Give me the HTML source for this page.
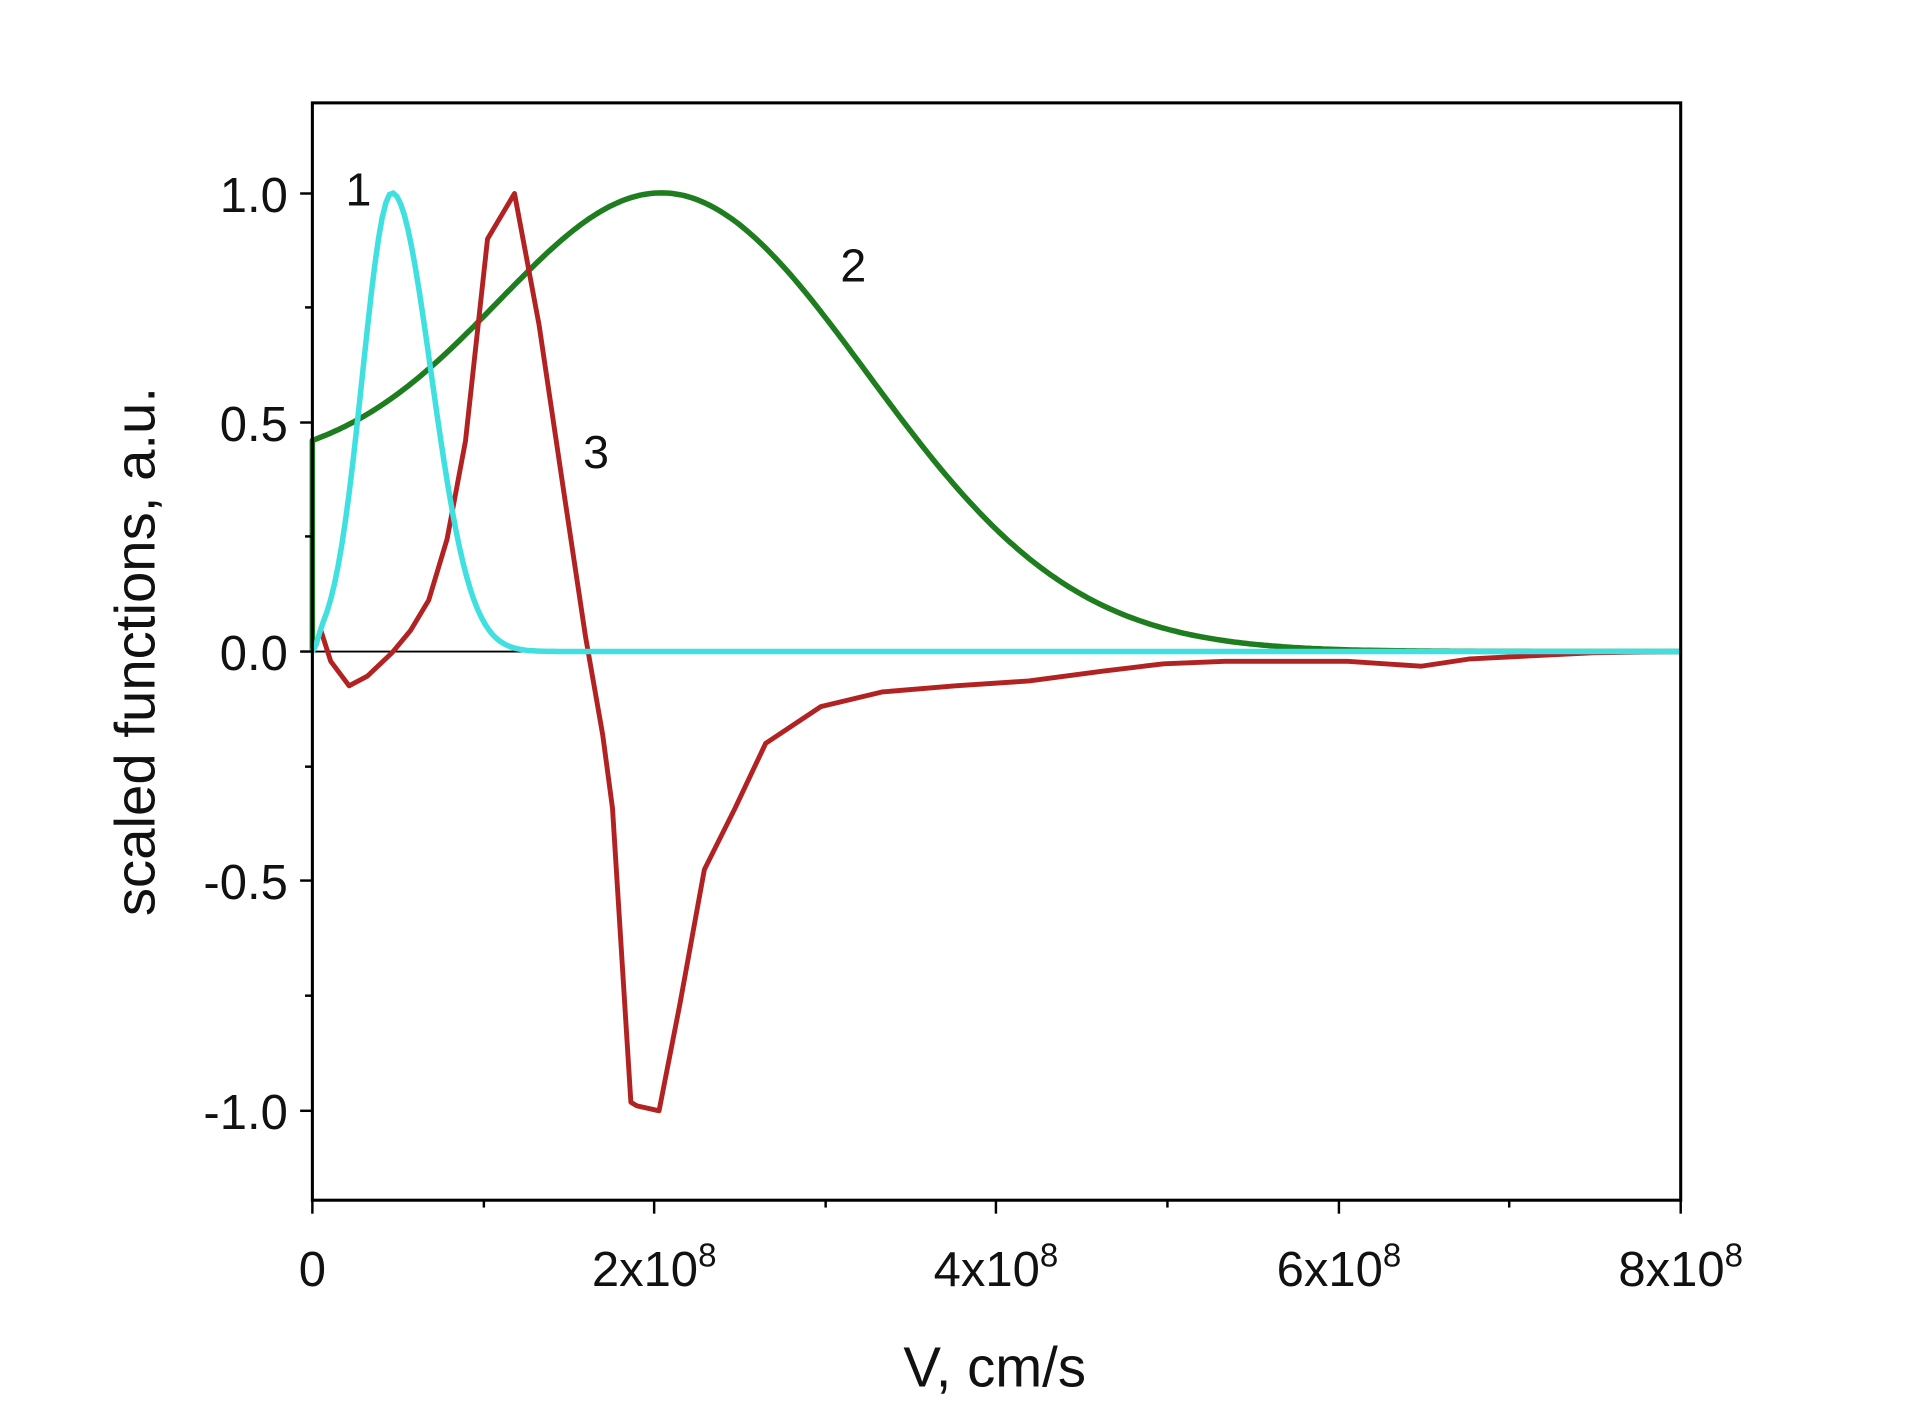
<!DOCTYPE html>
<html><head><style>html,body{margin:0;padding:0;background:#fff}svg{display:block}</style></head>
<body>
<svg width="1911" height="1428" viewBox="0 0 1560 1166" preserveAspectRatio="none" xmlns="http://www.w3.org/2000/svg" font-family="Liberation Sans, Arial, sans-serif">
<rect width="1560" height="1166" fill="#fff"/>
<line x1="255" y1="532" x2="1372" y2="532" stroke="#000" stroke-width="1.5"/>
<polyline id="gr" fill="none" stroke="#1e7d1e" stroke-width="4.5" stroke-linejoin="round" points=""/>
<polyline fill="none" stroke="#b22222" stroke-width="4" stroke-linejoin="round" points="262,515 270,540 285,560 300,552 320,533 335,515 350,490 365,440 380,360 398,195 420,158 440,265 460,400 478,520 492,600 500,660 515,900 520,903 538,907 555,820 575,710 600,660 625,607 670,577 720,565 780,560 840,556 900,548 950,542 1000,540 1100,540 1160,544 1200,538 1300,533 1372,532"/>
<polyline id="cy" fill="none" stroke="#40e0e0" stroke-width="4.5" points=""/>
<script>
(function(){var p=[];for(var x=255;x<=1372;x+=3){var d=x-320,s=d<0?24:32;var f=Math.exp(-d*d/(2*s*s));if(x<262)f=f*(x-255)/7;p.push(x+','+(532-f*374.5).toFixed(1));}
document.getElementById('cy').setAttribute('points',p.join(' '));
var q=['255,532'];for(var x=255;x<=1372;x+=3){var d=x-540,f;if(d<0)f=0.40+0.6*Math.exp(-d*d/(2*133*133));else f=Math.exp(-d*d/(2*168*168));q.push(x+','+(532-f*374.5).toFixed(1));}
document.getElementById('gr').setAttribute('points',q.join(' '));})();
</script>
<rect x="255" y="84" width="1117" height="896" fill="none" stroke="#000" stroke-width="2.5"/>
<g stroke="#000" stroke-width="2">
<line x1="245" y1="158" x2="255" y2="158"/><line x1="245" y1="345" x2="255" y2="345"/><line x1="245" y1="532" x2="255" y2="532"/><line x1="245" y1="719" x2="255" y2="719"/><line x1="245" y1="907" x2="255" y2="907"/>
<line x1="249" y1="251" x2="255" y2="251"/><line x1="249" y1="438" x2="255" y2="438"/><line x1="249" y1="626" x2="255" y2="626"/><line x1="249" y1="813" x2="255" y2="813"/>
<line x1="255" y1="980" x2="255" y2="991"/><line x1="534" y1="980" x2="534" y2="991"/><line x1="813" y1="980" x2="813" y2="991"/><line x1="1093" y1="980" x2="1093" y2="991"/><line x1="1372" y1="980" x2="1372" y2="991"/>
<line x1="395" y1="980" x2="395" y2="986"/><line x1="674" y1="980" x2="674" y2="986"/><line x1="953" y1="980" x2="953" y2="986"/><line x1="1232" y1="980" x2="1232" y2="986"/>
</g>
<g font-size="40" text-anchor="end" fill="#111">
<text x="235" y="173">1.0</text><text x="235" y="360">0.5</text><text x="235" y="547">0.0</text><text x="235" y="734">-0.5</text><text x="235" y="922">-1.0</text>
</g>
<g font-size="40" text-anchor="middle" fill="#111">
<text x="255" y="1050">0</text>
<text x="534" y="1050">2x10<tspan font-size="27" dy="-16">8</tspan></text>
<text x="813" y="1050">4x10<tspan font-size="27" dy="-16">8</tspan></text>
<text x="1093" y="1050">6x10<tspan font-size="27" dy="-16">8</tspan></text>
<text x="1372" y="1050">8x10<tspan font-size="27" dy="-16">8</tspan></text>
</g>
<text x="812" y="1132" font-size="46" text-anchor="middle" fill="#111">V, cm/s</text>
<text transform="translate(126,532) rotate(-90)" font-size="46" text-anchor="middle" fill="#111">scaled functions, a.u.</text>
<g font-size="38" fill="#111">
<text x="282" y="168">1</text><text x="686" y="230">2</text><text x="476" y="382">3</text>
</g>
</svg>
</body></html>
